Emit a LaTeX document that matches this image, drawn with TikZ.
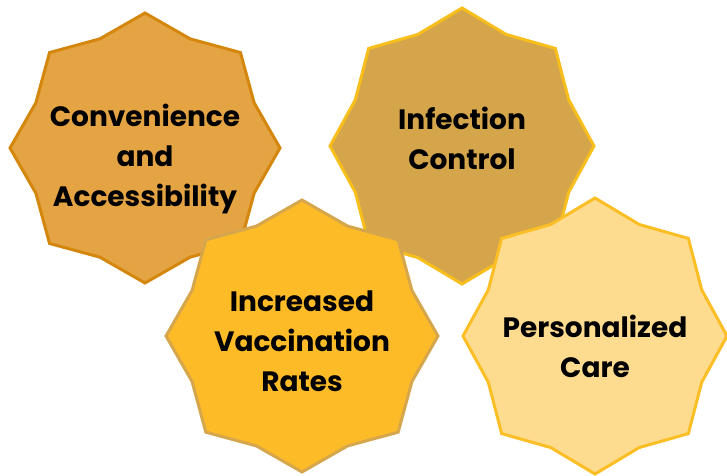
\documentclass[tikz,border=0pt]{standalone}
\usepackage{fontspec}
\newfontfamily\pop{Poppins}
\definecolor{f1}{HTML}{E5A443}
\definecolor{s1}{HTML}{D4870C}
\definecolor{f2}{HTML}{D4A54A}
\definecolor{s2}{HTML}{F7BE1C}
\definecolor{f3}{HTML}{FCBB27}
\definecolor{s3}{HTML}{D6A64C}
\definecolor{f4}{HTML}{FDDC8F}
\definecolor{s4}{HTML}{FBBE25}
\newcommand{\burst}[6]{%
  \draw[line width=3pt,line join=miter,draw=#5,fill=#6]
    ({#1},{#2-#4})
    \foreach \k in {1,...,15}{ -- ({#1+#3*(1-0.125*mod(\k,2))*cos(90+22.5*\k)},{#2-#4*(1-0.125*mod(\k,2))*sin(90+22.5*\k)}) } -- cycle;}
\tikzset{lbl/.style={align=center,font=\pop\bfseries\fontsize{28}{40}\selectfont,text=black,inner sep=0pt}}
\begin{document}
\begin{tikzpicture}[x=1pt,y=-1pt]
\useasboundingbox (0,0) rectangle (727,475);
\burst{145}{148}{135}{135}{s1}{f1}
\node[lbl] (conv) at (145,159) {Convenience\\and\\Accessibility};
\burst{462}{146}{132}{138}{s2}{f2}
\node[lbl] (inf) at (462,138) {Infection\\Control};
\burst{302}{336}{136}{136}{s3}{f3}
\node[lbl] (vacc) at (302,341) {Increased\\Vaccination\\Rates};
\burst{595}{336}{132}{138}{s4}{f4}
\node[lbl] (pers) at (595,346) {Personalized\\Care};
\end{tikzpicture}
\end{document}
